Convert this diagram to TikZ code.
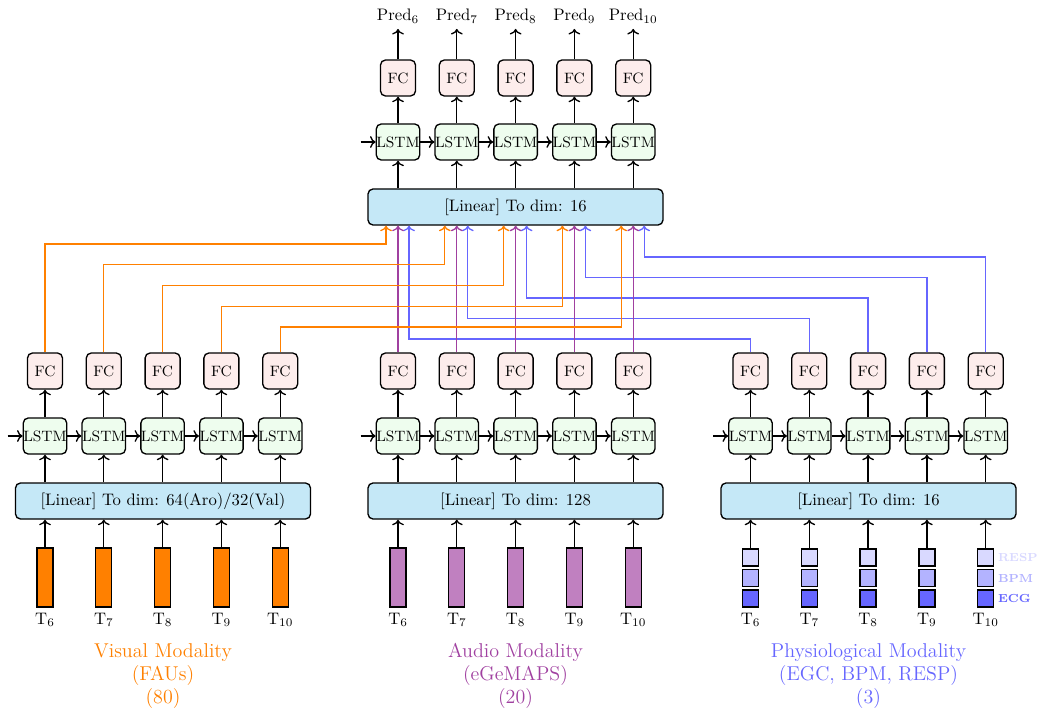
\documentclass[tikz,border=0pt]{standalone}
\usepackage{amsmath}
\usepackage{tikz}
\usetikzlibrary{arrows.meta,calc,positioning}
\usepackage{xcolor}
\definecolor{VisualOrange}{HTML}{FF8000}
\definecolor{AudioPurple}{HTML}{A040A0}
\definecolor{AudioFill}{HTML}{C080C0}
\definecolor{PhysioBlue}{HTML}{6666FF}
\definecolor{PhysioMid}{HTML}{B3B3FF}
\definecolor{PhysioLight}{HTML}{D9D9FF}
\definecolor{FCTint}{HTML}{FDEDEC}
\definecolor{LSTMTint}{HTML}{EEFDEE}
\definecolor{LinearTint}{HTML}{C5E8F7}
\tikzset{
  flow/.style={->,line width=0.8pt,draw=black},
  visflow/.style={flow,draw=VisualOrange},
  audflow/.style={flow,draw=AudioPurple},
  phyflow/.style={flow,draw=PhysioBlue},
  block/.style={draw,line width=0.8pt,rounded corners=3pt,inner sep=0pt,minimum height=21.6pt,font=\small},
  fcbox/.style={block,fill=FCTint,minimum width=21pt},
  lstmbox/.style={block,fill=LSTMTint,minimum width=25.2pt},
  linbox/.style={block,fill=LinearTint,minimum width=177pt,font=\normalsize},
  featbar/.style={draw,line width=0.8pt,minimum width=9.6pt,minimum height=35.4pt,inner sep=0pt},
  featsq/.style={draw,line width=0.8pt,minimum width=9.6pt,minimum height=10.2pt,inner sep=0pt},
  legend/.style={inner sep=0.5pt,font=\scriptsize\bfseries},
  modlabel/.style={align=center,font=\large}
}

\begin{document}
\begin{tikzpicture}[x=0.6pt,y=-0.6pt]
  \useasboundingbox (0,0) rectangle (1037,715);

  % fusion head on top
  \node[linbox] (t-lin) at (515.5,207) {[Linear] To dim: 16};
  \foreach \i in {1,...,5} {
    \pgfmathsetmacro{\xx}{398+58.8*(\i-1)}
    \pgfmathtruncatemacro{\tt}{\i+5}
    \node[lstmbox] (t-lstm\i) at (\xx,142) {LSTM};
    \node[fcbox] (t-fc\i) at (\xx,78) {FC};
    \node (t-pred\i) at (\xx,16) {Pred$_{\tt}$};
    \draw[flow] (t-lstm\i |- t-lin.north) -- (t-lstm\i.south);
    \draw[flow] (t-lstm\i) -- (t-fc\i);
    \draw[flow] (t-fc\i) -- (t-pred\i);
  }
  \coordinate[left=9pt of t-lstm1.west] (t-h0);
  \draw[flow] (t-h0) -- (t-lstm1.west);
  \foreach \i [evaluate=\i as \j using int(\i+1)] in {1,...,4}
    \draw[flow] (t-lstm\i) -- (t-lstm\j);

  % one branch per modality
  \foreach \g/\xs/\xl/\dimtxt in {v/45/163/{64(Aro)/32(Val)},a/398/515.5/{128},p/750.5/868.5/{16}} {
    \node[linbox] (\g-lin) at (\xl,501) {[Linear] To dim: \dimtxt};
    \foreach \i in {1,...,5} {
      \pgfmathsetmacro{\xx}{\xs+58.8*(\i-1)}
      \pgfmathtruncatemacro{\tt}{\i+5}
      \node[lstmbox] (\g-lstm\i) at (\xx,436) {LSTM};
      \node[fcbox] (\g-fc\i) at (\xx,371) {FC};
      \node (\g-t\i) at (\xx,620) {T$_{\tt}$};
      \draw[flow] (\g-lstm\i |- \g-lin.north) -- (\g-lstm\i.south);
      \draw[flow] (\g-lstm\i) -- (\g-fc\i);
    }
    \coordinate[left=9pt of \g-lstm1.west] (\g-h0);
    \draw[flow] (\g-h0) -- (\g-lstm1.west);
    \foreach \i [evaluate=\i as \j using int(\i+1)] in {1,...,4}
      \draw[flow] (\g-lstm\i) -- (\g-lstm\j);
  }

  % input features
  \foreach \i in {1,...,5} {
    \node[featbar,fill=VisualOrange] (v-in\i) at (v-t\i |- 0,577.5) {};
    \node[featbar,fill=AudioFill] (a-in\i) at (a-t\i |- 0,577.5) {};
    \node[featsq,fill=PhysioLight] (p-resp\i) at (p-t\i |- 0,557.5) {};
    \node[featsq,fill=PhysioMid] (p-bpm\i) at (p-t\i |- 0,578) {};
    \node[featsq,fill=PhysioBlue] (p-ecg\i) at (p-t\i |- 0,598.5) {};
    \draw[flow] (v-in\i.north) -- (v-in\i |- v-lin.south);
    \draw[flow] (a-in\i.north) -- (a-in\i |- a-lin.south);
    \draw[flow] (p-resp\i.north) -- (p-resp\i |- p-lin.south);
  }
  \node[legend,text=PhysioLight,right=1.5pt of p-resp5] (p-lresp) {RESP};
  \node[legend,text=PhysioMid,right=1.5pt of p-bpm5] (p-lbpm) {BPM};
  \node[legend,text=PhysioBlue,right=1.5pt of p-ecg5] (p-lecg) {ECG};

  % branch outputs into the fusion layer
  \foreach \i in {1,...,5} {
    \pgfmathsetmacro{\ov}{244+20.75*(\i-1)}
    \pgfmathsetmacro{\pv}{339-20.5*(\i-1)}
    \coordinate (v-turn\i) at ($(t-fc\i |- 0,\ov)+(-12,0)$);
    \coordinate (p-turn\i) at ($(t-fc\i |- 0,\pv)+(11,0)$);
    \draw[visflow] (v-fc\i.north) |- (v-turn\i) -- (v-turn\i |- t-lin.south);
    \draw[phyflow] (p-fc\i.north) |- (p-turn\i) -- (p-turn\i |- t-lin.south);
    \draw[audflow] (a-fc\i.north) -- (a-fc\i |- t-lin.south);
  }

  \node[modlabel,text=VisualOrange] (v-name) at (163,676) {Visual Modality\\(FAUs)\\(80)};
  \node[modlabel,text=AudioPurple] (a-name) at (515.5,676) {Audio Modality\\(eGeMAPS)\\(20)};
  \node[modlabel,text=PhysioBlue] (p-name) at (868.5,676) {Physiological Modality\\(EGC, BPM, RESP)\\(3)};
\end{tikzpicture}
\end{document}
